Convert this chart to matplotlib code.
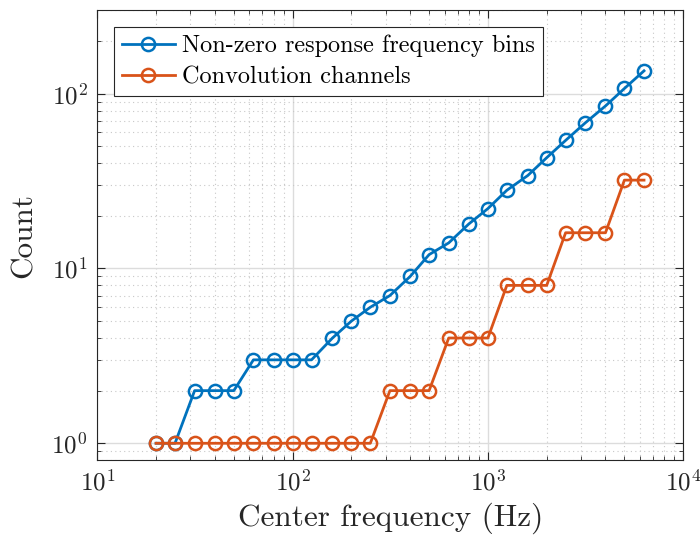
import matplotlib
matplotlib.use("Agg")
import matplotlib.pyplot as plt
from matplotlib.ticker import LogLocator, NullFormatter

freqs = [20, 25, 31.5, 40, 50, 63, 80, 100, 125, 160, 200, 250, 315, 400, 500,
         630, 800, 1000, 1250, 1600, 2000, 2500, 3150, 4000, 5000, 6300]
nonzero_bins = [1, 1, 2, 2, 2, 3, 3, 3, 3, 4, 5, 6, 7, 9, 12,
                14, 18, 22, 28, 34, 43, 54, 68, 85, 107, 135]
conv_channels = [1, 1, 1, 1, 1, 1, 1, 1, 1, 1, 1, 1, 2, 2, 2,
                 4, 4, 4, 8, 8, 8, 16, 16, 16, 32, 32]

plt.rcParams['font.family'] = ['cmr10', 'DejaVu Serif']
plt.rcParams['mathtext.fontset'] = 'cm'
plt.rcParams['axes.formatter.use_mathtext'] = True

fig = plt.figure(figsize=(7.0, 5.37), dpi=100)
ax = fig.add_axes([0.139, 0.143, 0.837, 0.838])

ax.loglog(freqs, nonzero_bins, '-o', color='#0072BD', lw=2, ms=9.5,
          mfc='none', mew=1.8, label='Non-zero response frequency bins')
ax.loglog(freqs, conv_channels, '-o', color='#D95319', lw=2, ms=9.5,
          mfc='none', mew=1.8, label='Convolution channels')

ax.set_xlim(10, 1e4)
ax.set_ylim(0.8, 300)
ax.xaxis.set_major_locator(LogLocator(base=10, numticks=10))
ax.xaxis.set_minor_locator(LogLocator(base=10, subs=range(2, 10), numticks=20))
ax.yaxis.set_minor_locator(LogLocator(base=10, subs=range(2, 10), numticks=20))
ax.xaxis.set_minor_formatter(NullFormatter())
ax.yaxis.set_minor_formatter(NullFormatter())

ax.grid(True, which='major', color='#dcdcdc', lw=1.0, ls='-')
ax.grid(True, which='minor', color='#c8c8c8', lw=0.8, ls=(0, (1, 3)))
ax.set_axisbelow(True)

ax.tick_params(which='both', direction='in', top=True, right=True,
               colors='#262626', labelsize=18)
ax.tick_params(which='major', length=6, width=0.8)
ax.tick_params(which='minor', length=3, width=0.6)
ax.tick_params(axis='x', pad=7)
ax.tick_params(axis='y', pad=7)
for s in ax.spines.values():
    s.set_color('#262626')
    s.set_linewidth(0.8)

ax.set_xlabel('Center frequency (Hz)', fontsize=22.5, color='#262626', labelpad=5)
ax.set_ylabel('Count', fontsize=22.5, color='#262626', labelpad=10)

leg = ax.legend(loc='upper left', fontsize=17.5, fancybox=False, framealpha=1,
                edgecolor='#262626', borderaxespad=0.7, handlelength=2.2,
                handletextpad=0.3, borderpad=0.3, labelspacing=0.4)
leg.get_frame().set_linewidth(0.8)

fig.savefig('out.png', dpi=100)
